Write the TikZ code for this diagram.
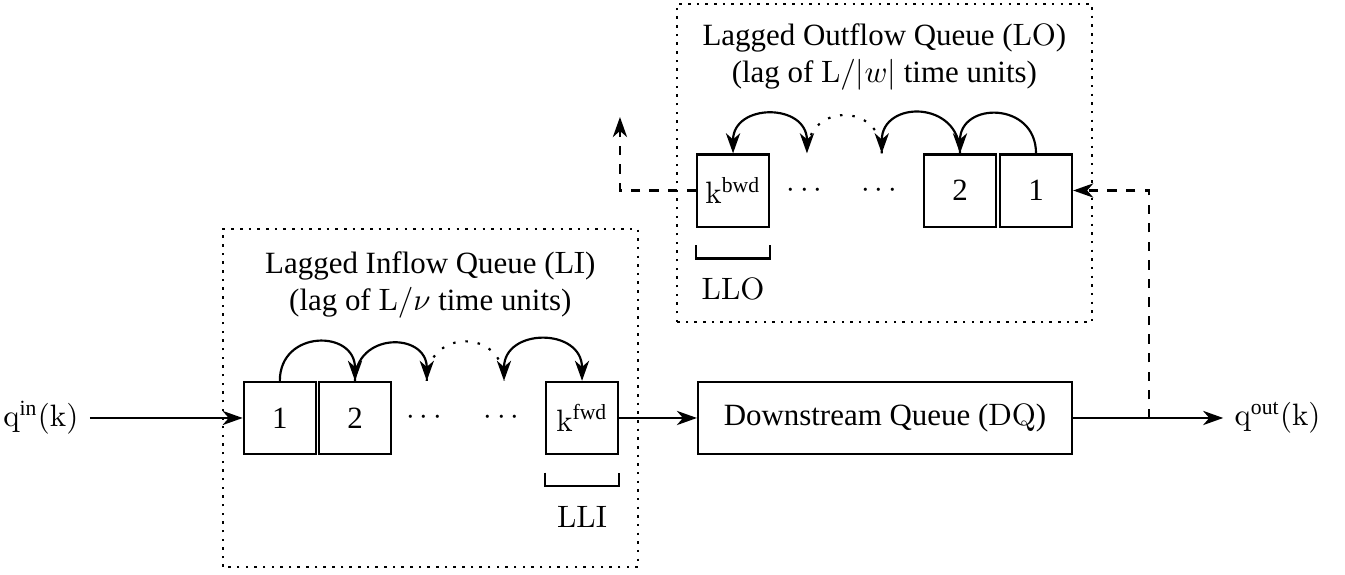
\documentclass[tikz,border=0pt]{standalone}
\usepackage{amsmath}
\usepackage[no-math]{fontspec}
\setmainfont{Liberation Serif}
\usetikzlibrary{arrows.meta}

\begin{document}
\begin{tikzpicture}[line width=0.7pt,
          >={Stealth[length=6.5pt, width=4.6pt, inset=2pt]},
          cell/.style={draw, minimum size=0.82cm, inner sep=0pt},
          lagframe/.style={dash pattern=on 0.8pt off 2pt},
          hop/.style={->, out=90, in=90, looseness=1.75},
          gap/.style={dash pattern=on 0.8pt off 3.2pt, out=90, in=90, looseness=1.75}]
          \useasboundingbox (0,0) rectangle (15.284,6.523);
          % lagged inflow queue
          \draw[lagframe] (2.534,0.08) rectangle (7.25,3.92);
          \node[align=center] (intitle) at (4.89,3.28) {Lagged Inflow Queue ($\mathrm{LI}$)\\(lag of $\mathrm{L}/\nu$ time units)};
          \node[cell] (in1) at (3.18,1.773) {1};
          \node[cell] (in2) at (4.034,1.773) {2};
          \node[cell] (inK) at (6.614,1.773) {$\mathrm{k}^{\text{fwd}}$};
          \node (indots1) at (4.85,1.773) {$\cdots$};
          \node (indots2) at (5.727,1.773) {$\cdots$};
          \coordinate (inA) at (indots1 |- in1.north);
          \coordinate (inB) at (indots2 |- in1.north);
          \draw[hop] (in1.north) to (in2.north);
          \draw[hop] (in2.north) to (inA);
          \draw[gap] (inA) to (inB);
          \draw[hop, <->] (inB) to (inK.north);
          \draw ([yshift=-2mm]inK.south west) -- ++(0,-1.5mm) -| ([yshift=-2mm]inK.south east);
          \node (lli) at ([yshift=-7mm]inK.south) {$\mathrm{LLI}$};
          % lagged outflow queue
          \draw[lagframe] (7.693,2.864) rectangle (12.41,6.477);
          \node[align=center] (outtitle) at (10.05,5.88) {Lagged Outflow Queue ($\mathrm{LO}$)\\(lag of $\mathrm{L}/|w|$ time units)};
          \node[cell] (out1) at (11.773,4.358) {1};
          \node[cell] (out2) at (10.909,4.358) {2};
          \node[cell] (outK) at (8.33,4.358) {$\mathrm{k}^{\text{bwd}}$};
          \node (outdots1) at (9.17,4.358) {$\cdots$};
          \node (outdots2) at (10.02,4.358) {$\cdots$};
          \coordinate (outA) at (outdots1 |- out1.north);
          \coordinate (outB) at (outdots2 |- out1.north);
          \draw[hop, in=90, out=90] (out1.north) to (out2.north);
          \draw[hop] (out2.north) to (outB);
          \draw[gap] (outB) to (outA);
          \draw[hop, <->] (outA) to (outK.north);
          \draw ([yshift=-2mm]outK.south west) -- ++(0,-1.5mm) -| ([yshift=-2mm]outK.south east);
          \node (llo) at ([yshift=-7mm]outK.south) {$\mathrm{LLO}$};
          % downstream queue and the flows
          \node[cell, minimum width=4.25cm] (dq) at (10.057,1.773) {Downstream Queue ($\mathrm{DQ}$)};
          \node[anchor=east] (qin) at (1.02,1.773) {$\mathrm{q}^{\text{in}}(\mathrm{k})$};
          \node[anchor=west] (qout) at (13.9,1.773) {$\mathrm{q}^{\text{out}}(\mathrm{k})$};
          \coordinate (tap) at (13.057,1.773);
          \coordinate (back) at (7.045,5.193);
          \draw[->] (qin) -- (in1);
          \draw[->] (inK) -- (dq);
          \draw[->] (dq) -- (qout);
          \draw[dashed, ->] (tap) |- (out1.east);
          \draw[dashed, ->] (outK.west) -| (back);
      \end{tikzpicture}
\end{document}
